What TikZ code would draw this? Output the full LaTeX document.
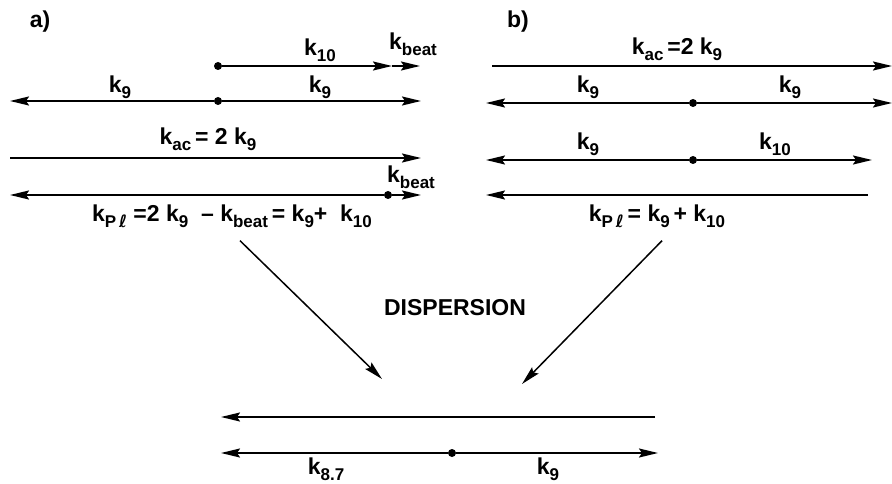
\documentclass[tikz,border=0pt]{standalone}
\usepackage{fontspec}
\setmainfont{Liberation Sans}
\newfontfamily\ellfont{DejaVu Sans}
\usetikzlibrary{arrows.meta}
\newcommand\Sb[1]{\raisebox{-0.5ex}{\fontsize{17}{17}\selectfont #1}}
\newcommand\Kpl{k\Sb{P\,{\ellfont ℓ}}}
\tikzset{
  vec/.style={line width=2pt, -{Stealth[length=19pt, width=9pt, inset=3pt]}},
  dot/.style={circle, fill, inner sep=0pt, minimum size=8pt},
  lbl/.style={inner sep=1pt, font=\bfseries\fontsize{23}{27}\selectfont}
}

\begin{document}
\begin{tikzpicture}[x=1pt, y=-1pt]
  \useasboundingbox (0,0) rectangle (892,484);
  % panel a
  \node[lbl] (la) at (40,22) {a)};
  \node[dot] (a1o) at (218,66) {};
  \coordinate (a1k) at (392,66);
  \coordinate (a1b) at (420,66);
  \draw[vec] (a1o) -- (a1k);
  \draw[vec] (a1k) -- (a1b);
  \node[lbl] (ta1k) at (320,50) {k\Sb{10}};
  \node[lbl] (ta1b) at (413,44) {k\Sb{beat}};

  \node[dot] (a2o) at (218,101) {};
  \coordinate (a2l) at (10,101);
  \coordinate (a2r) at (421,101);
  \draw[vec] (a2o) -- (a2l);
  \draw[vec] (a2o) -- (a2r);
  \node[lbl] (ta2l) at (120,87) {k\Sb{9}};
  \node[lbl] (ta2r) at (320,87) {k\Sb{9}};

  \coordinate (a3l) at (10,158);
  \coordinate (a3r) at (421,158);
  \draw[vec] (a3l) -- (a3r);
  \node[lbl] (ta3) at (208,139) {k\Sb{ac}\,= 2 k\Sb{9}};

  \node[dot] (a4o) at (388,195) {};
  \coordinate (a4l) at (10,195);
  \coordinate (a4r) at (421,195);
  \draw[vec] (a4o) -- (a4l);
  \draw[vec] (a4o) -- (a4r);
  \node[lbl] (ta4) at (411,177) {k\Sb{beat}};
  \node[lbl] (pa) at (232,216) {\Kpl\ =2 k\Sb{9} \ – k\Sb{beat}\,= k\Sb{9}+ \ k\Sb{10}};

  % panel b
  \node[lbl] (lb) at (518,22) {b)};
  \coordinate (b1l) at (492,66);
  \coordinate (b1r) at (892,66);
  \draw[vec] (b1l) -- (b1r);
  \node[lbl] (tb1) at (677,49) {k\Sb{ac}\,=2 k\Sb{9}};

  \node[dot] (b2o) at (693,103) {};
  \coordinate (b2l) at (486,103);
  \coordinate (b2r) at (892,103);
  \draw[vec] (b2o) -- (b2l);
  \draw[vec] (b2o) -- (b2r);
  \node[lbl] (tb2l) at (588,87) {k\Sb{9}};
  \node[lbl] (tb2r) at (790,87) {k\Sb{9}};

  \node[dot] (b3o) at (693,160) {};
  \coordinate (b3l) at (486,160);
  \coordinate (b3r) at (872,160);
  \draw[vec] (b3o) -- (b3l);
  \draw[vec] (b3o) -- (b3r);
  \node[lbl] (tb3l) at (588,144) {k\Sb{9}};
  \node[lbl] (tb3r) at (775,144) {k\Sb{10}};

  \coordinate (b4r) at (868,195);
  \coordinate (b4l) at (486,195);
  \draw[vec] (b4r) -- (b4l);
  \node[lbl] (pb) at (657,216) {\Kpl\,= k\Sb{9}\,+ k\Sb{10}};

  % dispersion
  \node[lbl] (disp) at (455,308) {DISPERSION};
  \coordinate (da) at (382,379);
  \coordinate (db) at (522,384);
  \draw[vec, line width=1.5pt] (pa.south) ++(8,12) coordinate (pa0) (pa0) -- (da);
  \draw[vec, line width=1.5pt] (pb.south) ++(5,12) coordinate (pb0) (pb0) -- (db);

  \coordinate (c1r) at (655,417);
  \coordinate (c1l) at (221,417);
  \draw[vec] (c1r) -- (c1l);
  \node[dot] (c2o) at (452,453) {};
  \coordinate (c2l) at (221,453);
  \coordinate (c2r) at (658,453);
  \draw[vec] (c2o) -- (c2l);
  \draw[vec] (c2o) -- (c2r);
  \node[lbl] (tc2l) at (326,469) {k\Sb{8.7}};
  \node[lbl] (tc2r) at (548,469) {k\Sb{9}};
\end{tikzpicture}
\end{document}
